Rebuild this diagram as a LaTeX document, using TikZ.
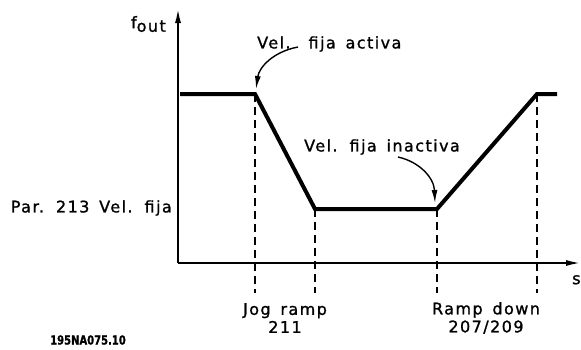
\documentclass[tikz,border=0pt]{standalone}
\usepackage{fontspec}
\setmainfont{DejaVu Sans}[LetterSpace=9, WordSpace=1.5, FakeBold=1.2]
\usetikzlibrary{arrows.meta}
\tikzset{
	axisline/.style={line width=2pt, -{Latex[length=15pt,width=6pt]}},
	profile/.style={line width=4pt, line join=miter},
	marker/.style={line width=1.6pt, dash pattern=on 8pt off 5pt},
	pointer/.style={line width=1.4pt, -{Latex[length=13pt,width=6pt]}},
	lbl/.style={font=\fontsize{16}{18}\selectfont, inner sep=0pt}
}

\begin{document}
\begin{tikzpicture}[x=1pt,y=-1pt]
			%%%%% START %%%%%
			\useasboundingbox (0,0) rectangle (581,349);
			
			% axes
			\draw[axisline] (178,263) -- (178,8);
			\draw[axisline] (178,263) -- (581,263);
			\node[lbl, anchor=east] (fout) at (166,24) {f\raisebox{-0.4ex}{out}};
			\node[lbl, anchor=north west] (sAxis) at (572,275) {s};
			
			% dashed markers
			\draw[marker] (255,94) -- (255,293);
			\draw[marker] (315,209) -- (315,293);
			\draw[marker] (437,209) -- (437,293);
			\draw[marker] (537,94) -- (537,293);
			
			% speed profile
			\draw[profile] (180,94) -- (255,94) -- (315,209) -- (437,209) -- (537,94) -- (557,94);
			
			% labels
			\node[lbl, anchor=east] (parJog) at (172,208) {Par. 213 Vel. fija};
			\node[lbl, align=center] (jogRamp) at (285,318) {Jog ramp\\211};
			\node[lbl, align=center] (rampDown) at (486,318) {Ramp down\\207/209};
			\node[font=\fontsize{12.5}{14}\selectfont\bfseries\addfontfeatures{LetterSpace=0}, inner sep=0pt] (docId) at (88,340) {\scalebox{0.8}[1]{195NA075.10}};
			
			\node[lbl, anchor=west] (lblOn) at (257,44) {Vel.\hspace{6pt} fija activa};
			\coordinate (onFrom) at (298,47);
			\coordinate (onTo) at (256,89);
			\draw[pointer] (onFrom) .. controls (272,52) and (259,68) .. (onTo);
			
			\node[lbl, anchor=west] (lblOff) at (304,147) {Vel. fija inactiva};
			\coordinate (offFrom) at (398,157);
			\coordinate (offTo) at (435,203);
			\draw[pointer] (offFrom) .. controls (420,162) and (434,178) .. (offTo);
			%%%%% END %%%%%
\end{tikzpicture}
\end{document}
